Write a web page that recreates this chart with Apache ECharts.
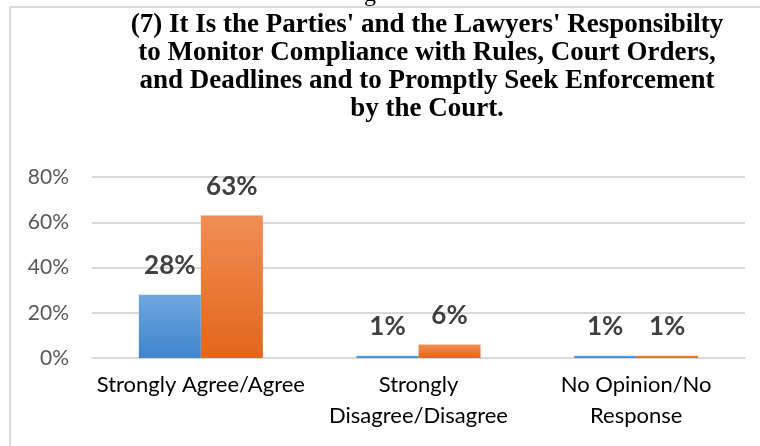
<!DOCTYPE html>
<html>
<head>
<meta charset="utf-8">
<script src="https://cdn.jsdelivr.net/npm/echarts@6/dist/echarts.min.js"></script>
<style>
  html, body { margin: 0; padding: 0; background: #fff; }
  #chart { width: 760px; height: 446px; }
</style>
</head>
<body>
<div id="chart"></div>
<script>
// survey answers, shares of respondents
const categories = ['Strongly Agree/Agree', 'Strongly\nDisagree/Disagree', 'No Opinion/No\nResponse'];
const seriesA = [0.28, 0.01, 0.01];
const seriesB = [0.63, 0.06, 0.01];
const yTicks = [0, 0.2, 0.4, 0.6, 0.8];

const titleText = "(7) It Is the Parties' and the Lawyers' Responsibilty\n" +
  "to Monitor Compliance with Rules, Court Orders,\n" +
  "and Deadlines and to Promptly Seek Enforcement\n" +
  "by the Court.";

const grad = (top, bottom) => new echarts.graphic.LinearGradient(0, 0, 0, 1, [
  { offset: 0, color: top },
  { offset: 1, color: bottom }
]);

const pct = v => Math.round(v * 100) + '%';

const chart = echarts.init(document.getElementById('chart'));
chart.setOption({
  animation: false,
  backgroundColor: '#fff',
  graphic: [
    // frame of the embedded chart
    { type: 'line', shape: { x1: 10, y1: 7, x2: 760, y2: 7 }, style: { stroke: '#d9d9d9', lineWidth: 2 } },
    { type: 'line', shape: { x1: 10, y1: 7, x2: 10, y2: 446 }, style: { stroke: '#d9d9d9', lineWidth: 2 } },
    // tail of a glyph from the text above, cut off by the crop
    {
      type: 'text', left: 364, top: -17, silent: true,
      style: { text: 'g', font: '24px "Liberation Serif"', fill: '#000' }
    },
    {
      type: 'text', x: 427, y: 11,
      style: {
        text: titleText,
        font: 'bold 27px "Liberation Serif"',
        fill: '#000',
        align: 'center',
        verticalAlign: 'top',
        lineHeight: 28
      }
    }
  ],
  grid: { left: 92, right: 15, top: 177, bottom: 88 },
  xAxis: {
    type: 'category',
    data: categories,
    axisTick: { show: false },
    axisLine: { lineStyle: { color: '#d9d9d9', width: 2 } },
    axisLabel: {
      color: '#000',
      fontFamily: 'Lato',
      fontSize: 22,
      lineHeight: 31,
      margin: 11,
      interval: 0
    }
  },
  yAxis: {
    type: 'value',
    min: yTicks[0],
    max: yTicks[yTicks.length - 1],
    interval: 0.2,
    axisLine: { show: false },
    axisTick: { show: false },
    splitLine: { lineStyle: { color: '#d9d9d9', width: 2 } },
    axisLabel: {
      color: '#595959',
      fontFamily: 'Lato',
      fontSize: 21,
      margin: 23,
      formatter: v => pct(v)
    }
  },
  series: [
    { name: 'A', data: seriesA, color: grad('#6ea8df', '#3f84cb') },
    { name: 'B', data: seriesB, color: grad('#f08e54', '#e2661a') }
  ].map(s => ({
    ...s,
    type: 'bar',
    barWidth: 62,
    barGap: '0%',
    itemStyle: { color: s.color },
    label: {
      show: true,
      position: 'top',
      distance: 16,
      color: '#404040',
      fontFamily: 'Lato',
      fontWeight: 'bold',
      fontSize: 26,
      formatter: p => pct(p.value)
    }
  }))
});
</script>
</body>
</html>
